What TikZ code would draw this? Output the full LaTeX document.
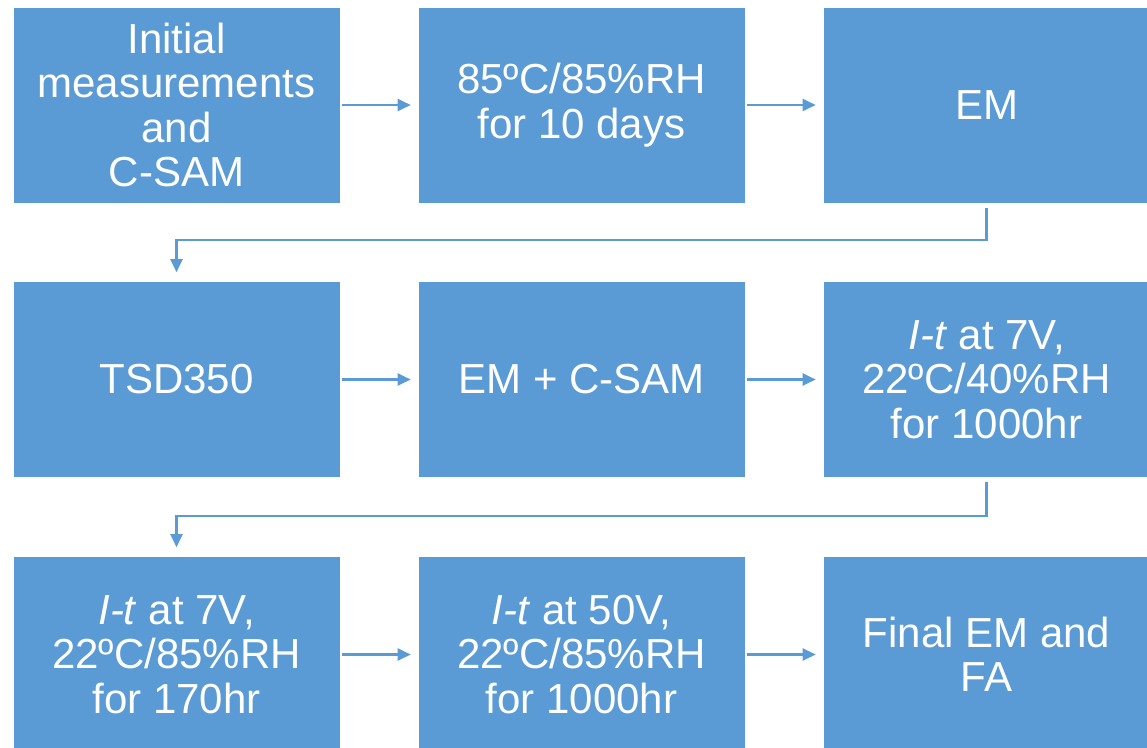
\documentclass[tikz,border=0pt]{standalone}
\usepackage{fontspec}
\setmainfont{Liberation Sans}
\usetikzlibrary{arrows.meta}
\definecolor{boxblue}{HTML}{5B9BD5}

\begin{document}
\begin{tikzpicture}[x=1pt,y=-1pt,
    stepbox/.style={rectangle,fill=boxblue,draw=white,line width=0.6pt,
      minimum width=327pt,minimum height=196pt,inner sep=0pt,align=center,
      text=white,font=\fontsize{42}{44.5}\selectfont},
    flow/.style={draw=boxblue,line width=2.2pt,
      -{Triangle[length=13pt,width=12pt]}}]

\useasboundingbox (0,0) rectangle (1147,747);

% first row
\node[stepbox] (init) at (176.5,105) {Initial\\measurements\\and\\C-SAM};
\node[stepbox] (soak) at (581.5,105) {85ºC/85\%RH\\for 10 days};
\node[stepbox] (em1) at (986.5,105) {EM};

% second row
\node[stepbox] (tsd) at (176.5,379.5) {TSD350};
\node[stepbox] (em2) at (581.5,379.5) {EM + C-SAM};
\node[stepbox] (it1) at (986.5,379.5) {\textit{I-t} at 7V,\\22ºC/40\%RH\\for 1000hr};

% third row
\node[stepbox] (it2) at (176.5,654.5) {\textit{I-t} at 7V,\\22ºC/85\%RH\\for 170hr};
\node[stepbox] (it3) at (581.5,654.5) {\textit{I-t} at 50V,\\22ºC/85\%RH\\for 1000hr};
\node[stepbox] (final) at (986.5,654.5) {Final EM and\\FA};

% arrows within a row
\draw[flow,shorten <=2pt,shorten >=7pt] (init) -- (soak);
\draw[flow,shorten <=2pt,shorten >=7pt] (soak) -- (em1);
\draw[flow,shorten <=2pt,shorten >=7pt] (tsd) -- (em2);
\draw[flow,shorten <=2pt,shorten >=7pt] (em2) -- (it1);
\draw[flow,shorten <=2pt,shorten >=7pt] (it2) -- (it3);
\draw[flow,shorten <=2pt,shorten >=7pt] (it3) -- (final);

% arrows down to the next row
\draw[flow,shorten <=5pt,shorten >=9pt] (em1.south) -- ++(0,37) -| (tsd.north);
\draw[flow,shorten <=4pt,shorten >=9pt] (it1.south) -- ++(0,38.5) -| (it2.north);

\end{tikzpicture}
\end{document}
